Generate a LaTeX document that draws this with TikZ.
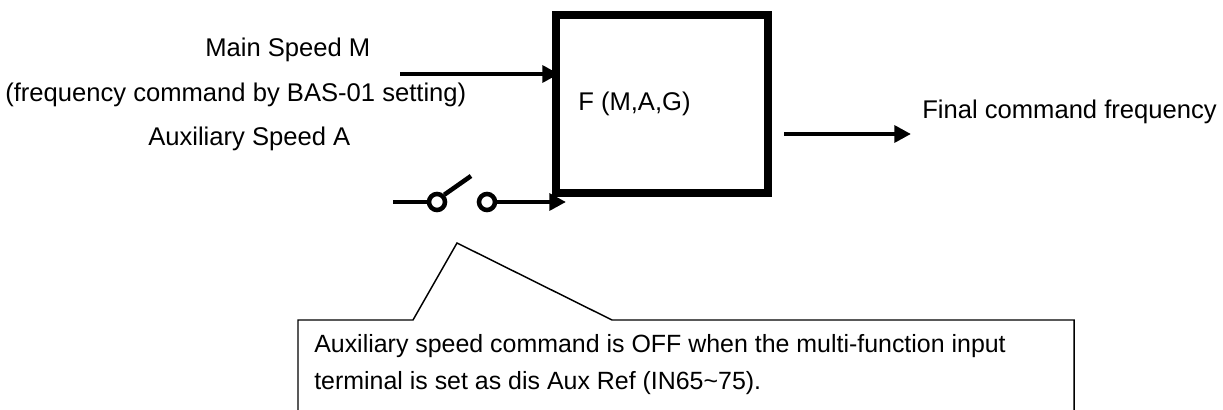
\documentclass[tikz,border=0pt]{standalone}
\usepackage{fontspec}
\setmainfont{Liberation Sans}
\usetikzlibrary{arrows.meta}
\begin{document}
\begin{tikzpicture}[x=0.75pt,y=-0.75pt,
  lbl/.style={inner sep=0pt,font=\fontsize{19.2}{23}\selectfont},
  notelbl/.style={inner sep=0pt,font=\fontsize{18.7}{23}\selectfont},
  thickarrow/.style={line width=3.4pt,-{Triangle[length=12.5pt,width=12.5pt]}},
  thickline/.style={line width=3.4pt},
  fbox/.style={draw,line width=6pt,minimum width=212*0.75pt,minimum height=178*0.75pt,inner sep=0pt},
  swcircle/.style={circle,draw,line width=3.4pt,minimum size=12pt,inner sep=0pt},
  callout/.style={line width=1.1pt}]
\useasboundingbox (0,0) rectangle (1223,410);
\clip (0,0) rectangle (1223,410);
% texts on the left
\node[lbl,anchor=base west] (mainM) at (205,57) {Main Speed M};
\node[lbl,anchor=base west] (freq) at (5,101) {(frequency command by BAS-01 setting)};
\node[lbl,anchor=base west] (auxA) at (148,145) {Auxiliary Speed A};
% main arrow
\coordinate (mstart) at (400,74);
\coordinate (mend) at (559,74);
\draw[thickarrow] (mstart) -- (mend);
% function box
\node[fbox] (F) at (662,104) {};
\node[lbl,anchor=base west] (Flbl) at (578,110) {F (M,A,G)};
% output
\coordinate (ostart) at (784,134);
\coordinate (oend) at (911,134);
\draw[thickarrow] (ostart) -- (oend);
\node[lbl,anchor=base west] (final) at (922,118) {Final command frequency};
% switch
\coordinate (sw0) at (393,202);
\node[swcircle] (c1) at (437,202) {};
\node[swcircle] (c2) at (487,202) {};
\coordinate (lever) at (471,176);
\coordinate (aend) at (566,202);
\draw[thickline] (sw0) -- (c1.west);
\draw[thickline] (c1.45) -- (lever);
\draw[thickarrow] (c2.east) -- (aend);
% callout
\coordinate (cl) at (298,320);
\coordinate (cf1) at (413,320);
\coordinate (cpk) at (457,243);
\coordinate (cf2) at (612,320);
\coordinate (cr) at (1074,320);
\draw[callout] (298,415) -- (cl) -- (cf1) -- (cpk) -- (cf2) -- (cr) -- (1074,415);
\node[notelbl,anchor=base west] (note1) at (314,352) {Auxiliary speed command is OFF when the multi-function input};
\node[notelbl,anchor=base west] (note2) at (314,389) {terminal is set as dis Aux Ref (IN65\textasciitilde 75).};
\end{tikzpicture}
\end{document}
